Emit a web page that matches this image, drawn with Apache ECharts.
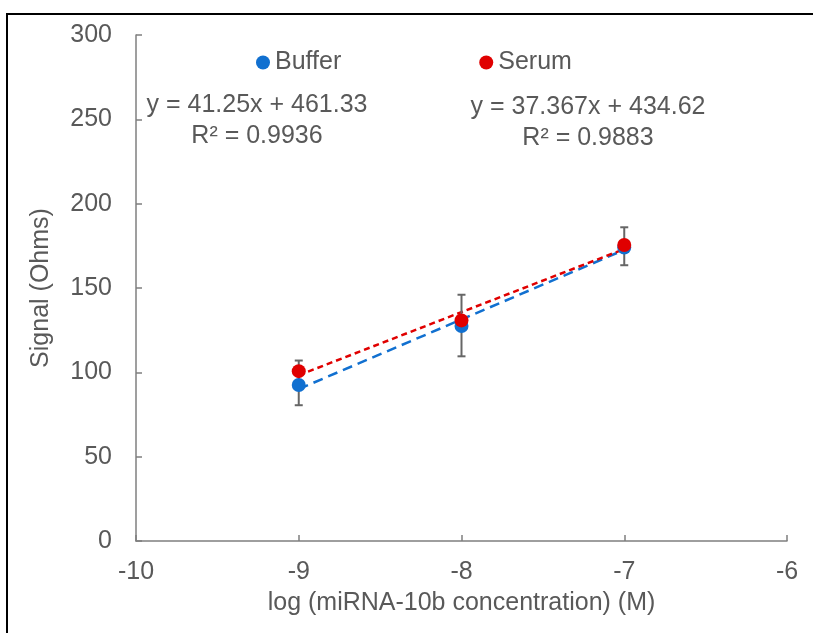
<!DOCTYPE html>
<html>
<head>
<meta charset="utf-8">
<script src="https://cdn.jsdelivr.net/npm/echarts@6/dist/echarts.min.js"></script>
<style>
  html, body { margin: 0; padding: 0; background: #fff; }
  #chart { width: 813px; height: 633px; }
</style>
</head>
<body>
<div id="chart"></div>
<script>
// x 刻度 (log M)
var xTicks = [-10, -9, -8, -7, -6];
var conc = [-9, -8, -7];

// Buffer 数据 + 误差棒
var bufferVals = [92.5, 127.5, 174];
var bufferErrLow = [80.5, 109.5, 163.5];
var bufferErrHigh = [107, 146, 186];

// Serum 数据
var serumVals = [100.7, 130.8, 175.5];

// 趋势线端点 (x=-9, x=-7)
var bufferTrend = [90.1, 172.6];
var serumTrend = [98.3, 173.1];
var trendX = [-9, -7];

var bufferEq = 'y = 41.25x + 461.33\nR² = 0.9936';
var serumEq = 'y = 37.367x + 434.62\nR² = 0.9883';

var gray = '#595959';
var blue = '#1170D0';
var red = '#E00000';
var font = 'Liberation Sans, Arial, sans-serif';

function pairs(xs, ys) {
    var out = [];
    for (var i = 0; i < xs.length; i++) {
        out.push([xs[i], ys[i]]);
    }
    return out;
}

var errData = [];
for (var i = 0; i < conc.length; i++) {
    errData.push([conc[i], bufferErrLow[i], bufferErrHigh[i]]);
}

var chart = echarts.init(document.getElementById('chart'));

var option = {
    animation: false,
    textStyle: { fontFamily: font },
    grid: { left: 136, right: 26, top: 35, bottom: 92 },
    legend: {
        left: 251,
        top: 45,
        itemGap: 138,
        itemWidth: 14,
        itemHeight: 14,
        icon: 'circle',
        textStyle: { color: gray, fontSize: 25 },
        data: ['Buffer', 'Serum']
    },
    graphic: [
        {
            type: 'rect',
            shape: { x: 7, y: 14, width: 830, height: 650 },
            style: { fill: 'none', stroke: '#000', lineWidth: 2 },
            silent: true
        },
        {
            type: 'text',
            x: 257, y: 90,
            style: { text: bufferEq, fill: gray, fontSize: 25, lineHeight: 31, align: 'center', fontFamily: font }
        },
        {
            type: 'text',
            x: 588, y: 92,
            style: { text: serumEq, fill: gray, fontSize: 25, lineHeight: 31, align: 'center', fontFamily: font }
        }
    ],
    xAxis: {
        type: 'value',
        min: xTicks[0],
        max: xTicks[xTicks.length - 1],
        interval: 1,
        name: 'log (miRNA-10b concentration) (M)',
        nameLocation: 'middle',
        nameGap: 50,
        nameTextStyle: { color: gray, fontSize: 25 },
        axisLine: { lineStyle: { color: '#7f7f7f', width: 1.5 } },
        axisTick: { inside: true, length: 6, lineStyle: { color: '#7f7f7f', width: 1.5 } },
        axisLabel: { color: gray, fontSize: 25, margin: 19 },
        splitLine: { show: false }
    },
    yAxis: {
        type: 'value',
        min: 0,
        max: 300,
        interval: 50,
        name: 'Signal (Ohms)',
        nameLocation: 'middle',
        nameGap: 82,
        nameTextStyle: { color: gray, fontSize: 25 },
        axisLine: { show: true, lineStyle: { color: '#7f7f7f', width: 1.5 } },
        axisTick: { show: true, inside: true, length: 6, lineStyle: { color: '#7f7f7f', width: 1.5 } },
        axisLabel: { color: gray, fontSize: 25, margin: 24 },
        splitLine: { show: false }
    },
    series: [
        {
            name: 'Buffer trend',
            type: 'line',
            data: pairs(trendX, bufferTrend),
            symbol: 'none',
            lineStyle: { color: blue, width: 2.5, type: [10, 6] },
            z: 1
        },
        {
            name: 'Serum trend',
            type: 'line',
            data: pairs(trendX, serumTrend),
            symbol: 'none',
            lineStyle: { color: red, width: 2.5, type: [6, 4] },
            z: 1
        },
        {
            // 误差棒
            name: 'err',
            type: 'custom',
            data: errData,
            z: 2,
            renderItem: function(params, api) {
                var x = api.value(0);
                var lo = api.coord([x, api.value(1)]);
                var hi = api.coord([x, api.value(2)]);
                var cap = 4;
                var st = { stroke: '#666', lineWidth: 2 };
                return {
                    type: 'group',
                    children: [
                        { type: 'line', shape: { x1: lo[0], y1: lo[1], x2: hi[0], y2: hi[1] }, style: st },
                        { type: 'line', shape: { x1: lo[0] - cap, y1: lo[1], x2: lo[0] + cap, y2: lo[1] }, style: st },
                        { type: 'line', shape: { x1: hi[0] - cap, y1: hi[1], x2: hi[0] + cap, y2: hi[1] }, style: st }
                    ]
                };
            }
        },
        {
            name: 'Buffer',
            type: 'scatter',
            data: pairs(conc, bufferVals),
            symbol: 'circle',
            symbolSize: 14,
            itemStyle: { color: blue, opacity: 1 },
            z: 3
        },
        {
            name: 'Serum',
            type: 'scatter',
            data: pairs(conc, serumVals),
            symbol: 'circle',
            symbolSize: 14,
            itemStyle: { color: red, opacity: 1 },
            z: 4
        }
    ]
};

chart.setOption(option);
</script>
</body>
</html>
